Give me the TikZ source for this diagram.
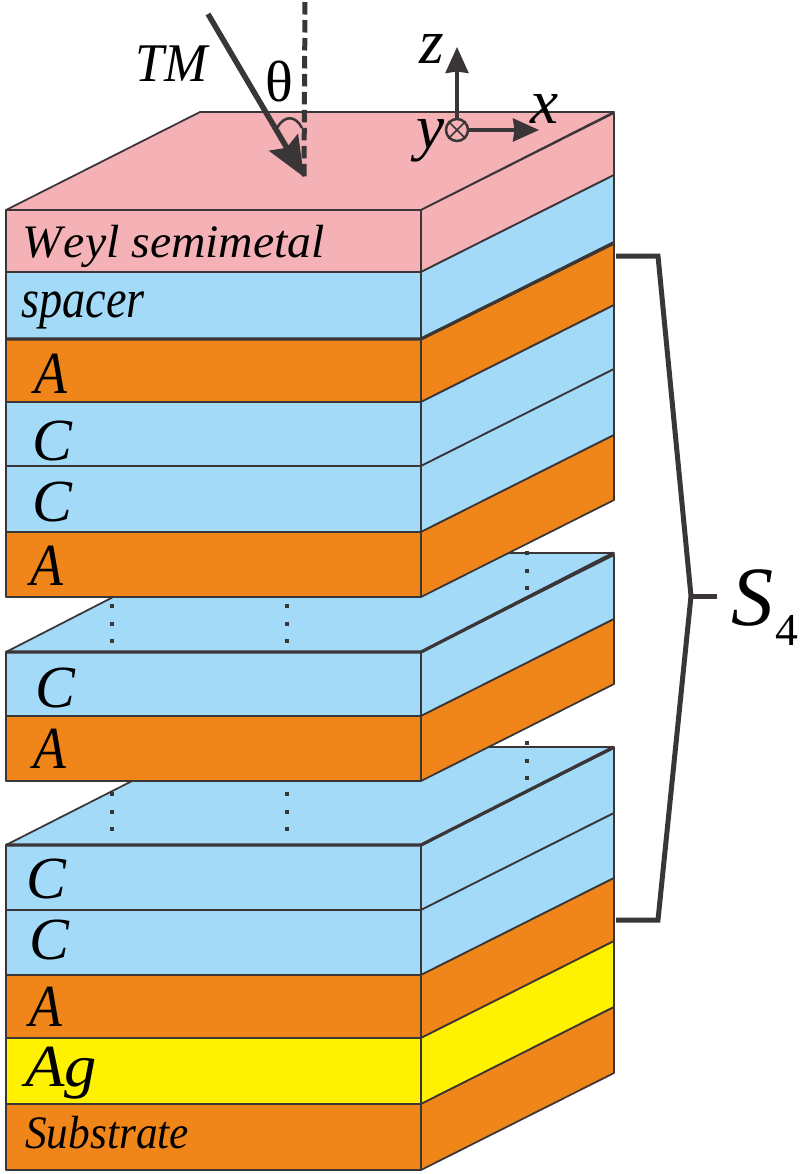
\documentclass[tikz,border=0pt]{standalone}
\usepackage{fontspec}
\setmainfont{Liberation Serif}[ItalicFont={Liberation Serif Italic}]
\usetikzlibrary{arrows.meta}
\definecolor{pinkc}{HTML}{F4B1B6}
\definecolor{bluec}{HTML}{A2DAF7}
\definecolor{orangec}{HTML}{F08519}
\definecolor{yellowc}{HTML}{FFF200}
\definecolor{linec}{HTML}{3A3536}
\tikzset{
  face/.style={draw=linec,line width=0.035cm,line join=round},
  heavy/.style={draw=linec,line width=0.065cm},
  vdots/.style={draw=linec,line width=0.09cm,dash pattern=on 0.08cm off 0.27cm},
  lab/.style={inner sep=0,anchor=base west,text=black,font=\fontsize{34}{34}\selectfont\itshape},
  lname/.style={lab,font=\fontsize{26.5}{27}\selectfont\itshape},
  axis/.style={lab,font=\fontsize{36}{36}\selectfont\itshape},
  bracket/.style={draw=linec,line width=0.1cm,line join=miter},
}
% one layer: top y, bottom y, colour
\newcommand{\layer}[3]{
  \path[face,fill=#3] (6,#1) rectangle (421,#2);
  \path[face,fill=#3] (421,#1) -- (614,#1-97) -- (614,#2-97) -- (421,#2) -- cycle;
}
\begin{document}
\begin{tikzpicture}[x=0.02cm,y=-0.02cm]
\useasboundingbox (0,0) rectangle (800,1174);
% lowest block
\path[face,fill=bluec] (6,845) -- (199,747) -- (614,747) -- (421,845) -- cycle;
\layer{845}{910}{bluec}
\layer{910}{975}{bluec}
\layer{975}{1038}{orangec}
\layer{1038}{1104}{yellowc}
\layer{1104}{1170}{orangec}
\draw[heavy] (6,845) -- (421,845) -- (614,747);
\draw[vdots] (112,792) -- (112,834);
\draw[vdots] (287,792) -- (287,834);
\draw[vdots] (527,741) -- (527,782);
% middle block
\path[face,fill=bluec] (6,652) -- (199,553) -- (614,553) -- (421,652) -- cycle;
\layer{652}{716}{bluec}
\layer{716}{781}{orangec}
\draw[heavy] (6,652) -- (421,652) -- (614,553);
\draw[vdots] (112,604) -- (112,644);
\draw[vdots] (287,604) -- (287,644);
\draw[vdots] (527,551) -- (527,592);
% upper block
\path[face,fill=pinkc] (6,210) -- (200,112) -- (614,112) -- (421,210) -- cycle;
\layer{210}{272}{pinkc}
\layer{272}{339}{bluec}
\layer{339}{402}{orangec}
\layer{402}{466}{bluec}
\layer{466}{532}{bluec}
\layer{532}{597}{orangec}
\draw[heavy] (6,339) -- (421,339) -- (614,243);
% layer names
\node[lname,xscale=1.025] (weyl) at (22,257) {W\kern1pt eyl semimetal};
\node[lab,font=\fontsize{31}{31}\selectfont\itshape,xscale=0.85] (spacer) at (21,317) {spacer};
\node[lab,xscale=0.9] (a1) at (34,393) {A};
\node[lab] (c1) at (32,460) {C};
\node[lab] (c2) at (32,521) {C};
\node[lab,xscale=0.9] (a2) at (30,585) {A};
\node[lab] (c3) at (35,707) {C};
\node[lab,xscale=0.9] (a3) at (33,768) {A};
\node[lab] (c4) at (26,898) {C};
\node[lab] (c5) at (29,959) {C};
\node[lab,xscale=0.9] (a4) at (29,1026) {A};
\node[lab,xscale=1.08] (ag) at (25,1086) {Ag};
\node[lname,xscale=0.93] (sub) at (25,1148) {Substrate};
% incident beam
\coordinate (tmstart) at (208,14);
\coordinate (tmend) at (304,177);
\coordinate (normtop) at (305,2);
\draw[line width=0.1cm,linec,dash pattern=on 0.25cm off 0.11cm] (normtop) -- (tmend);
\draw[line width=0.11cm,linec,-{Stealth[length=0.8cm,width=0.66cm,inset=0.12cm]}] (tmstart) -- (tmend);
\coordinate (arcl) at (277,128);
\coordinate (arcr) at (302,128);
\draw[line width=0.05cm,linec] (arcl) .. controls (285,114) and (296,116) .. (arcr);
\node[lab,font=\fontsize{31}{31}\selectfont\itshape,xscale=0.95] (tm) at (135,81) {TM};
\node[lab,font=\fontsize{33}{33}\selectfont] (theta) at (265,101) {θ};
% axes
\node[draw=linec,circle,line width=0.05cm,minimum size=0.44cm,inner sep=0] (yaxis) at (457,130) {};
\draw[linec,line width=0.035cm] (yaxis.north west) -- (yaxis.south east);
\draw[linec,line width=0.035cm] (yaxis.north east) -- (yaxis.south west);
\coordinate (ztip) at (457,47);
\coordinate (xtip) at (539,130);
\draw[line width=0.065cm,linec,-{Stealth[length=0.52cm,width=0.46cm,inset=0.03cm]}] (yaxis.north) -- (ztip);
\draw[line width=0.065cm,linec,-{Stealth[length=0.52cm,width=0.46cm,inset=0.03cm]}] (yaxis.east) -- (xtip);
\node[axis] (zlab) at (419,63) {z};
\node[axis] (xlab) at (530,123) {x};
\node[axis] (ylab) at (416,148) {y};
% bracket
\coordinate (brtop) at (616,256);
\coordinate (brbot) at (616,920);
\coordinate (brapex) at (691,596);
\coordinate (brtick) at (717,596);
\draw[bracket] (brtop) -- (658,256) -- (brapex) -- (658,920) -- (brbot);
\draw[bracket] (brapex) -- (brtick);
\node[lab,font=\fontsize{48}{48}\selectfont\itshape] (slab) at (731,625) {S};
\node[lab,font=\fontsize{26}{26}\selectfont] (sidx) at (775,645) {4};
\end{tikzpicture}
\end{document}
